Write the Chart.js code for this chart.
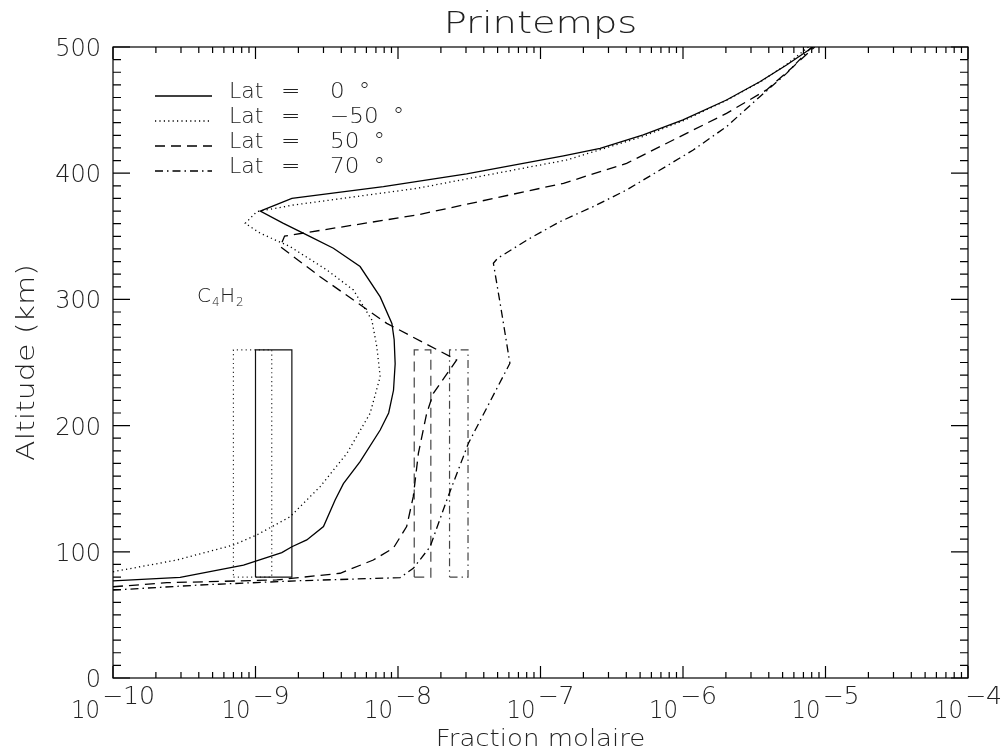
<!DOCTYPE html>
<html>
<head>
<meta charset="utf-8">
<title>Printemps</title>
<script src="https://cdn.jsdelivr.net/npm/chart.js@4.4.0/dist/chart.umd.min.js"></script>
<style>
  body { margin: 0; background: #fff; }
  canvas { display: block; }
</style>
</head>
<body>
<canvas id="myChart" width="1004" height="753"></canvas>
<script>
// profiles (fraction molaire vs altitude km)
const fracLat0 = [1e-10, 2.96e-10, 8.24e-10, 1.53e-9, 1.8e-9, 2.29e-9, 3.0e-9, 3.62e-9, 4.14e-9, 5.42e-9, 7.5e-9, 8.6e-9, 9.3e-9, 9.55e-9, 9.4e-9, 9.06e-9, 7.5e-9, 5.42e-9, 3.52e-9, 2.42e-9, 1.57e-9, 1.08e-9, 1.8e-9, 7.9e-9, 3.03e-8, 1.45e-7, 2.62e-7, 5.26e-7, 1.0e-6, 2.02e-6, 3.46e-6, 5.33e-6, 8.19e-6];
const altLat0  = [77, 79.8, 89.5, 99.3, 104, 109.4, 120, 141, 154, 171.4, 196.5, 210, 228, 249, 268, 281, 302, 326, 340.5, 349.7, 360.3, 370, 380, 389.3, 399.4, 413.7, 419.7, 430.3, 442.2, 458, 472.5, 485.7, 500];

const fracLatM50 = [1e-10, 2.81e-10, 7.0e-10, 1.02e-9, 1.75e-9, 2.84e-9, 4.38e-9, 6.37e-9, 7.5e-9, 7.1e-9, 6.55e-9, 4.87e-9, 3.17e-9, 1.75e-9, 1.08e-9, 8.47e-10, 1.02e-9, 1.85e-9, 1.36e-8, 1.53e-7, 5.2e-7, 1.0e-6, 2.0e-6, 3.5e-6, 5.3e-6, 7.6e-6];
const altLatM50  = [84.2, 93.5, 105.4, 113.3, 127.8, 151.6, 178, 209.7, 238.7, 262.5, 283.7, 307.4, 323.3, 341.8, 352.4, 360.3, 369.5, 374.8, 388, 410.5, 429, 441.5, 457.5, 472.5, 486, 500];

const fracLat50 = [1e-10, 2.39e-10, 1.41e-9, 3.93e-9, 6.71e-9, 9.29e-9, 1.15e-8, 1.28e-8, 1.39e-8, 1.59e-8, 1.77e-8, 2.58e-8, 8.34e-9, 2.84e-9, 1.49e-9, 1.6e-9, 1.36e-8, 1.45e-7, 4.02e-7, 9.0e-7, 2.02e-6, 3.86e-6, 5.93e-6, 8.4e-6];
const altLat50  = [72.3, 75.5, 77.7, 83, 93.5, 103, 120, 143.7, 178, 209.7, 225.6, 252, 281, 318, 341.8, 350.2, 366.9, 392, 407.8, 427.6, 447.4, 466, 484.4, 500];

const fracLat70 = [1e-10, 4.09e-10, 2.06e-9, 1.035e-8, 1.28e-8, 1.68e-8, 2.2e-8, 3.12e-8, 6.1e-8, 5.35e-8, 4.67e-8, 5.0e-8, 8.43e-8, 1.37e-7, 2.34e-7, 4.02e-7, 6.89e-7, 1.18e-6, 2.02e-6, 3.46e-6, 5.33e-6, 8.0e-6];
const altLat70  = [69.7, 73.7, 77.1, 79.5, 86.9, 104, 141, 186, 249.4, 289, 328.6, 332.6, 348.4, 361.6, 373.5, 386.7, 402.5, 418.4, 436.9, 460.6, 479.1, 500];

// observation boxes: [min, max] fraction, shared altitude range
const boxAlt = [80, 260];
const boxLat0 = [1.0e-9, 1.8e-9];
const boxLatM50 = [7.0e-10, 1.3e-9];
const boxLat50 = [1.3e-8, 1.7e-8];
const boxLat70 = [2.3e-8, 3.1e-8];

const legendLabels = ["0", "\u221250", "50", "70"];
const xTickExps = [-10, -9, -8, -7, -6, -5, -4];
const yTicks = [0, 100, 200, 300, 400, 500];

const DOT = [1.2, 3.2];
const DASH = [10, 6];
const DASHDOT = [8, 4, 1.5, 4];
const styles = [[], DOT, DASH, DASHDOT];

function toPoints(xs, ys) {
  return xs.map((x, i) => ({ x: x, y: ys[i] }));
}
function boxPoints(xr, yr) {
  return [
    { x: xr[0], y: yr[0] }, { x: xr[1], y: yr[0] },
    { x: xr[1], y: yr[1] }, { x: xr[0], y: yr[1] },
    { x: xr[0], y: yr[0] }
  ];
}
function lineSet(label, data, dash, color, width) {
  return {
    label: label,
    data: data,
    showLine: true,
    fill: false,
    borderColor: color,
    borderWidth: width,
    borderDash: dash,
    pointRadius: 0,
    tension: 0
  };
}

const datasets = [
  lineSet("Lat 0", toPoints(fracLat0, altLat0), [], "#000", 1.3),
  lineSet("Lat -50", toPoints(fracLatM50, altLatM50), DOT, "#000", 1.3),
  lineSet("Lat 50", toPoints(fracLat50, altLat50), DASH, "#000", 1.3),
  lineSet("Lat 70", toPoints(fracLat70, altLat70), DASHDOT, "#000", 1.3),
  lineSet("box 0", boxPoints(boxLat0, boxAlt), [], "#111", 1.2),
  lineSet("box -50", boxPoints(boxLatM50, boxAlt), DOT, "#333", 1.2),
  lineSet("box 50", boxPoints(boxLat50, boxAlt), DASH, "#444", 1.2),
  lineSet("box 70", boxPoints(boxLat70, boxAlt), DASHDOT, "#444", 1.2)
];

const FONT = '"DejaVu Sans", "Liberation Sans", sans-serif';

// text stretched horizontally, to get the wide plotter-font look
function wideText(ctx, text, x, y, size, sx, align) {
  ctx.save();
  ctx.font = "200 " + size + "px " + FONT;
  ctx.textAlign = "left";
  const w = ctx.measureText(text).width * sx;
  let x0 = x;
  if (align === "center") x0 = x - w / 2;
  else if (align === "right") x0 = x - w;
  ctx.translate(x0, y);
  ctx.scale(sx, 1);
  ctx.fillText(text, 0, 0);
  ctx.restore();
  return w;
}

// IDL-like frame, ticks, labels, legend
const framePlugin = {
  id: "frame",
  afterDraw(chart) {
    const ctx = chart.ctx;
    const a = chart.chartArea;
    const xs = chart.scales.x, ys = chart.scales.y;
    ctx.save();
    ctx.strokeStyle = "#000";
    ctx.fillStyle = "#222";
    ctx.lineWidth = 1.2;
    ctx.setLineDash([]);
    ctx.strokeRect(a.left, a.top, a.right - a.left, a.bottom - a.top);

    ctx.beginPath();
    // x ticks (bottom + top)
    xTickExps.forEach((e, i) => {
      const px = xs.getPixelForValue(Math.pow(10, e));
      ctx.moveTo(px, a.bottom); ctx.lineTo(px, a.bottom - 12);
      ctx.moveTo(px, a.top); ctx.lineTo(px, a.top + 12);
      if (i < xTickExps.length - 1) {
        for (let m = 2; m <= 9; m++) {
          const mx = xs.getPixelForValue(m * Math.pow(10, e));
          ctx.moveTo(mx, a.bottom); ctx.lineTo(mx, a.bottom - 6);
          ctx.moveTo(mx, a.top); ctx.lineTo(mx, a.top + 6);
        }
      }
    });
    // y ticks (left + right)
    for (let v = 0; v <= 500; v += 10) {
      const py = ys.getPixelForValue(v);
      const len = v % 100 === 0 ? 17 : 8;
      ctx.moveTo(a.left, py); ctx.lineTo(a.left + len, py);
      ctx.moveTo(a.right, py); ctx.lineTo(a.right - len, py);
    }
    ctx.stroke();

    ctx.textBaseline = "alphabetic";
    // x tick labels with exponent
    ctx.font = "200 24px " + FONT;
    xTickExps.forEach(e => {
      const px = xs.getPixelForValue(Math.pow(10, e));
      const base = "10", sup = "\u2212" + Math.abs(e);
      const wb = ctx.measureText(base).width * 0.95;
      const ws = ctx.measureText(sup).width * 1.05;
      const x0 = px - (wb + ws + 2) / 2;
      wideText(ctx, base, x0, 718, 24, 0.95, "left");
      wideText(ctx, sup, x0 + wb + 2, 704, 24, 1.05, "left");
    });

    // y tick labels
    yTicks.forEach(v => {
      wideText(ctx, String(v), a.left - 12, ys.getPixelForValue(v) + 9, 24, 1.0, "right");
    });

    // axis titles
    wideText(ctx, "Fraction molaire", (a.left + a.right) / 2, 746, 23, 1.13, "center");
    ctx.save();
    ctx.translate(34, (a.top + a.bottom) / 2);
    ctx.rotate(-Math.PI / 2);
    wideText(ctx, "Altitude (km)", 0, 0, 25, 1.2, "center");
    ctx.restore();

    // title
    wideText(ctx, "Printemps", (a.left + a.right) / 2, 33, 30, 1.28, "center");

    // legend
    const legY = [98, 123, 148, 173];
    legY.forEach((y, i) => {
      ctx.beginPath();
      ctx.setLineDash(styles[i]);
      ctx.lineWidth = 1.3;
      ctx.moveTo(155, y - 2); ctx.lineTo(212, y - 2);
      ctx.stroke();
      ctx.setLineDash([]);
      wideText(ctx, "Lat", 229, y, 21, 1.05, "left");
      wideText(ctx, "=", 281, y, 21, 1.1, "left");
      const w = wideText(ctx, legendLabels[i], 330, y, 21, 1.1, "left");
      wideText(ctx, "\u00b0", 330 + w + 14, y, 21, 1.1, "left");
    });

    // species label
    wideText(ctx, "C", 197, 302, 20, 1.0, "left");
    wideText(ctx, "4", 212, 306, 12, 1.0, "left");
    wideText(ctx, "H", 220, 302, 20, 1.0, "left");
    wideText(ctx, "2", 236, 306, 12, 1.0, "left");
    ctx.restore();
  }
};

const ctx = document.getElementById("myChart").getContext("2d");
new Chart(ctx, {
  type: "scatter",
  data: { datasets: datasets },
  options: {
    responsive: false,
    animation: false,
    layout: { padding: { left: 113, right: 36, top: 47, bottom: 75 } },
    scales: {
      x: { type: "logarithmic", min: 1e-10, max: 1e-4, display: false },
      y: { type: "linear", min: 0, max: 500, display: false }
    },
    plugins: { legend: { display: false }, tooltip: { enabled: false } }
  },
  plugins: [framePlugin]
});
</script>
</body>
</html>
